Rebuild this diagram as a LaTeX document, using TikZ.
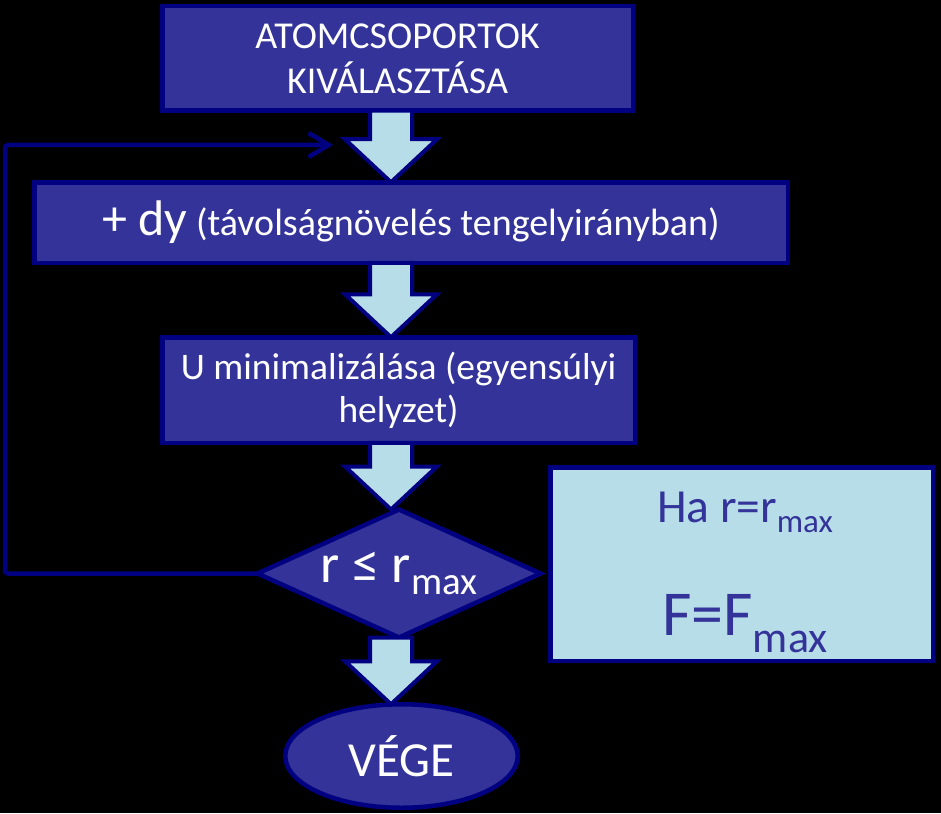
\documentclass[tikz,border=0pt]{standalone}
\usepackage{fontspec}
\setmainfont{Carlito}
\usetikzlibrary{arrows.meta,calc,shapes.geometric}
\definecolor{boxblue}{RGB}{51,51,153}
\definecolor{edgenavy}{RGB}{0,0,128}
\definecolor{paleblue}{RGB}{183,221,232}
\tikzset{
    stepbox/.style  = {rectangle, draw=edgenavy, fill=boxblue, line width=4.5pt,
                       text=white, inner sep=0pt, outer sep=0pt, align=center},
    decbox/.style   = {diamond, aspect=2.2, draw=edgenavy, fill=boxblue, line width=4.5pt,
                       text=white, inner sep=0pt, outer sep=0pt},
    endbox/.style   = {ellipse, draw=edgenavy, fill=boxblue, line width=4.5pt,
                       text=white, inner sep=0pt, outer sep=0pt},
    notebox/.style  = {rectangle, draw=edgenavy, fill=paleblue, line width=4.5pt,
                       inner sep=0pt, outer sep=0pt},
    notetext/.style = {text=boxblue, inner sep=0pt, anchor=base},
    flow/.style     = {draw=edgenavy, fill=paleblue, line width=4pt},
    feedback/.style = {draw=edgenavy, line width=4.5pt, rounded corners=3pt,
                       -{Straight Barb[length=20pt,width=24pt]}}
}
% lowered subscript: size, drop, text
\newcommand{\lowsub}[3]{\raisebox{-#2}{\fontsize{#1}{#1}\selectfont #3}}
% block arrow between two nodes, on the (spine) column
\newcommand{\blockarrow}[2]{%
  \path[flow] let \p1=(#1.south), \p2=(#2.north), \p3=(spine) in
    (\x3-21pt,\y1) -- (\x3+21pt,\y1) -- (\x3+21pt,\y2+43pt) -- (\x3+46pt,\y2+43pt)
    -- (\x3,\y2) -- (\x3-46pt,\y2+43pt) -- (\x3-21pt,\y2+43pt) -- cycle;}

\begin{document}
\begin{tikzpicture}[x=1pt,y=-1pt]

    % ---------- background ----------
    \fill[black] (0,0) rectangle (941,813);

    % ---------- flow steps ----------
    \node[stepbox, minimum width=470.5pt, minimum height=104.5pt,
          font=\fontsize{38}{45}\selectfont] (select) at (397.5,58.5)
          {ATOMCSOPORTOK\\KIVÁLASZTÁSA};
    \node[stepbox, minimum width=753.5pt, minimum height=80.5pt,
          font=\fontsize{38}{44}\selectfont] (shift) at (411,222.5)
          {{\fontsize{50}{54}\selectfont + dy} (távolságnövelés tengelyirányban)};
    \node[stepbox, minimum width=472.5pt, minimum height=105.5pt,
          font=\fontsize{37.5}{43}\selectfont] (relax) at (398.5,390)
          {U minimalizálása (egyensúlyi\\helyzet)};
    \node[decbox, minimum width=283pt, minimum height=128pt,
          font=\fontsize{55}{60}\selectfont] (check) at (399,573.5)
          {r ≤ r\lowsub{39}{12pt}{max}};
    \node[endbox, minimum width=232.5pt, minimum height=103.5pt,
          font=\fontsize{49}{52}\selectfont] (stop) at (401.5,756) {VÉGE};

    % ---------- side note ----------
    \node[notebox, minimum width=382.5pt, minimum height=193.5pt] (note) at (741.5,564) {};
    \node[notetext, font=\fontsize{47.5}{50}\selectfont] (noteA) at (745,522)
          {Ha r=r\lowsub{33}{10pt}{max}};
    \node[notetext, font=\fontsize{64}{66}\selectfont] (noteB) at (745,635)
          {F=F\lowsub{44}{17pt}{max}};

    % ---------- block arrows ----------
    \coordinate (spine) at (391,0);
    \blockarrow{select}{shift}
    \blockarrow{shift}{relax}
    \blockarrow{relax}{check}
    \blockarrow{check}{stop}

    % ---------- loop back ----------
    \coordinate (loopcorner) at (5,145);
    \coordinate (loopin) at (333,145);
    \draw[feedback] (check.west) -| (loopcorner) -- (loopin);

\end{tikzpicture}
\end{document}
